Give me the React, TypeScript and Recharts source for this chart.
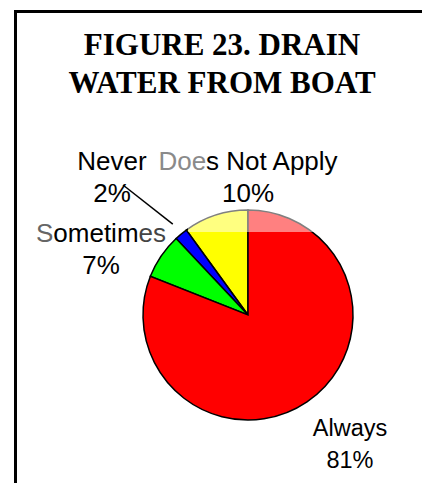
import { PieChart, Pie, Cell } from 'recharts';

// slices in drawing order, counter-clockwise from 12 o'clock
const categories = ['Does Not Apply', 'Never', 'Sometimes', 'Always'];
const shares = [10, 2, 7, 81];
const sliceColors = ['#FFFF00', '#0000FF', '#00FF00', '#FF0000'];

const titleLines = ['FIGURE 23. DRAIN', 'WATER FROM BOAT'];

const data = categories.map((name, i) => ({ name, value: shares[i] }));

// label placement relative to the pie centre (x centre, first baseline)
const labelOffsets: Record<string, { dx: number; dy: number; size: number }> = {
  'Does Not Apply': { dx: 0, dy: -145, size: 26 },
  Never: { dx: -136, dy: -145, size: 26 },
  Sometimes: { dx: -147, dy: -73, size: 26 },
  Always: { dx: 102, dy: 121, size: 23.5 },
};

const RAD = Math.PI / 180;

const renderLabel = (props: any) => {
  const { cx, cy, midAngle, outerRadius, name, percent } = props;
  const off = labelOffsets[name];
  const x = cx + off.dx;
  const y = cy + off.dy;
  const pct = `${Math.round(percent * 100)}%`;
  const font = { fontFamily: 'Liberation Sans, Arial, sans-serif', fontSize: off.size };

  let first: any = name;
  if (name === 'Does Not Apply') {
    first = (
      <>
        <tspan fill="#8a8a8a">Doe</tspan>
        <tspan>s Not Apply</tspan>
      </>
    );
  } else if (name === 'Sometimes') {
    first = (
      <>
        <tspan fill="#666">S</tspan>
        <tspan>ometim</tspan>
        <tspan fill="#444">es</tspan>
      </>
    );
  }

  let leader = null;
  if (name === 'Never') {
    const ex = cx + (outerRadius + 13) * Math.cos(-midAngle * RAD);
    const ey = cy + (outerRadius + 13) * Math.sin(-midAngle * RAD);
    leader = <line x1={x + 11} y1={y + 15} x2={ex} y2={ey} stroke="#000" strokeWidth={1.5} />;
  }

  return (
    <g>
      {name === 'Does Not Apply' && (
        <rect x={cx - 60} y={cy - 160} width={127} height={77} fill="#fff" fillOpacity={0.5} />
      )}
      {leader}
      <text x={x} y={y} textAnchor="middle" fill="#000" {...font}>
        {first}
      </text>
      <text x={x} y={y + 32} textAnchor="middle" fill="#000" {...font}>
        {pct}
      </text>
    </g>
  );
};

export default function App() {
  return (
    <div style={{ position: 'absolute', left: 0, top: 0, width: 422, height: 483, background: '#fff' }}>
      <svg width={422} height={483} style={{ position: 'absolute', left: 0, top: 0 }}>
        <line x1={14} y1={11.5} x2={422} y2={11.5} stroke="#000" strokeWidth={3} />
        <line x1={15.5} y1={10} x2={15.5} y2={483} stroke="#000" strokeWidth={3} />
        {titleLines.map((t, i) => (
          <text
            key={t}
            x={222}
            y={55 + i * 38}
            textAnchor="middle"
            fontFamily="Liberation Serif, Times New Roman, serif"
            fontWeight="bold"
            fontSize={31}
            fill="#000"
          >
            {t}
          </text>
        ))}
      </svg>
      <div style={{ position: 'absolute', left: 0, top: 0 }}>
        <PieChart width={422} height={483}>
          <Pie
            data={data}
            dataKey="value"
            nameKey="name"
            cx={243}
            cy={310}
            outerRadius={105}
            startAngle={90}
            endAngle={450}
            stroke="#000"
            strokeWidth={1.5}
            label={renderLabel}
            labelLine={false}
            isAnimationActive={false}
          >
            {data.map((d, i) => (
              <Cell key={d.name} fill={sliceColors[i]} />
            ))}
          </Pie>
        </PieChart>
      </div>
    </div>
  );
}
